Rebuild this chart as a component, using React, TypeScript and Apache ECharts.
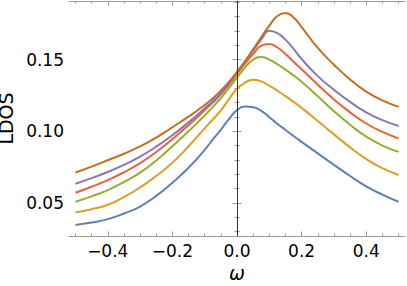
import React, { useEffect, useRef } from "react";
import * as echarts from "echarts";

// omega sample points shared by all curves
const omega = [-0.5,-0.45,-0.4,-0.35,-0.3,-0.25,-0.2,-0.15,-0.1,-0.075,-0.05,-0.025,0,0.025,0.05,0.075,0.1,0.125,0.15,0.175,0.2,0.25,0.3,0.35,0.4,0.45,0.5];

// LDOS values, one array per curve
const ldosBlue =   [0.0345,0.0362,0.0386,0.0425,0.0474,0.0548,0.0640,0.0745,0.0870,0.0942,0.1010,0.1085,0.1148,0.1172,0.1168,0.1142,0.1098,0.1052,0.1009,0.0967,0.0926,0.0845,0.0765,0.0687,0.0615,0.0557,0.0507];
const ldosOrange = [0.0433,0.0455,0.0486,0.0540,0.0607,0.0688,0.0780,0.0895,0.1020,0.1082,0.1145,0.1225,0.1297,0.1340,0.1360,0.1348,0.1318,0.1283,0.1245,0.1205,0.1163,0.1072,0.0978,0.0887,0.0805,0.0742,0.0694];
const ldosGreen =  [0.0507,0.0545,0.0589,0.0645,0.0711,0.0795,0.0895,0.1000,0.1110,0.1170,0.1232,0.1302,0.1375,0.1445,0.1500,0.1518,0.1500,0.1468,0.1430,0.1390,0.1345,0.1245,0.1140,0.1045,0.0962,0.0900,0.0856];
const ldosRed =    [0.0570,0.0612,0.0658,0.0713,0.0777,0.0855,0.0945,0.1042,0.1146,0.1200,0.1258,0.1325,0.1400,0.1472,0.1540,0.1598,0.1610,0.1585,0.1540,0.1485,0.1433,0.1325,0.1222,0.1132,0.1054,0.0995,0.0949];
const ldosPurple = [0.0633,0.0672,0.0716,0.0765,0.0823,0.0892,0.0972,0.1062,0.1160,0.1210,0.1265,0.1335,0.1410,0.1488,0.1565,0.1640,0.1702,0.1685,0.1640,0.1575,0.1505,0.1385,0.1290,0.1205,0.1132,0.1078,0.1037];
const ldosBrown =  [0.0712,0.0753,0.0797,0.0843,0.0894,0.0955,0.1028,0.1102,0.1183,0.1230,0.1283,0.1345,0.1414,0.1490,0.1572,0.1657,0.1738,0.1805,0.1826,0.1795,0.1728,0.1582,0.1465,0.1362,0.1277,0.1215,0.1170];

const curves = [ldosBlue, ldosOrange, ldosGreen, ldosRed, ldosPurple, ldosBrown];
const colors = ["#5E81B5", "#E19C24", "#8FB032", "#EB6235", "#8778B3", "#C56E1A"];

const xMajorTicks = [-0.4, -0.2, 0, 0.2, 0.4];
const xMinorTicks = [-0.5, -0.45, -0.35, -0.3, -0.25, -0.15, -0.1, -0.05, 0.05, 0.1, 0.15, 0.25, 0.3, 0.35, 0.45, 0.5];
const yMajorTicks = [0.05, 0.1, 0.15];
const yMinorTicks = [0.03, 0.04, 0.06, 0.07, 0.08, 0.09, 0.11, 0.12, 0.13, 0.14, 0.16, 0.17, 0.18, 0.19];

const X_MIN = -0.52, X_MAX = 0.52, Y_MIN = 0.0268, Y_MAX = 0.191;
const FRAME = "#999999";
const FONT = "DejaVu Sans";

export default function App() {
  const ref = useRef<HTMLDivElement>(null);
  useEffect(() => {
    if (!ref.current) return;
    const chart = echarts.init(ref.current, null, { renderer: "svg" });
    const xBase = { type: "value", min: X_MIN, max: X_MAX, splitLine: { show: false } };
    const yBase = { type: "value", min: Y_MIN, max: Y_MAX, splitLine: { show: false } };
    const majorTick = (vals: number[]) => ({ show: true, inside: true, length: 4.5, customValues: vals, lineStyle: { color: FRAME, width: 1 } });
    const minorTick = (vals: number[]) => ({ show: true, inside: true, length: 2.5, customValues: vals, lineStyle: { color: FRAME, width: 1 } });
    const line = (show: boolean) => ({ show, lineStyle: { color: FRAME, width: 1 } });
    const noLabel = { show: false };
    chart.setOption({
      animation: false,
      grid: { left: 69, right: 2, top: 1, bottom: 50, outerBoundsMode: "none", containLabel: false },
      xAxis: [
        {
          ...xBase, position: "bottom", axisLine: line(true), axisTick: majorTick(xMajorTicks),
          axisLabel: { show: true, customValues: xMajorTicks, margin: 6, color: "#000", fontSize: 17, fontFamily: FONT,
            formatter: (v: number) => v.toFixed(1).replace("-", "\u2212") },
          name: "\u03c9", nameLocation: "middle", nameGap: 21,
          nameTextStyle: { fontSize: 19, fontStyle: "italic", color: "#000", fontFamily: FONT },
        },
        { ...xBase, position: "bottom", axisLine: line(false), axisTick: minorTick(xMinorTicks), axisLabel: noLabel },
        { ...xBase, position: "top", axisLine: line(true), axisTick: majorTick(xMajorTicks), axisLabel: noLabel },
        { ...xBase, position: "top", axisLine: line(false), axisTick: minorTick(xMinorTicks), axisLabel: noLabel },
      ],
      yAxis: [
        {
          ...yBase, position: "left", axisLine: line(true), axisTick: majorTick(yMajorTicks),
          axisLabel: { show: true, customValues: yMajorTicks, margin: 5, color: "#000", fontSize: 17, fontFamily: FONT,
            formatter: (v: number) => v.toFixed(2) },
          name: "LDOS", nameLocation: "middle", nameGap: 37,
          nameTextStyle: { fontSize: 19, color: "#000", fontFamily: FONT },
        },
        { ...yBase, position: "left", axisLine: line(false), axisTick: minorTick(yMinorTicks), axisLabel: noLabel },
        { ...yBase, position: "right", axisLine: line(true), axisTick: majorTick(yMajorTicks), axisLabel: noLabel },
        { ...yBase, position: "right", axisLine: line(false), axisTick: minorTick(yMinorTicks), axisLabel: noLabel },
      ],
      series: [
        {
          type: "line", data: [], xAxisIndex: 0, yAxisIndex: 0, z: 1,
          markLine: {
            silent: true, symbol: ["none", "none"], label: { show: false },
            lineStyle: { color: "#333", width: 1, type: "solid" },
            data: [{ xAxis: 0 }],
          },
        },
        ...curves.map((vals, i) => ({
          type: "line", data: omega.map((w, j) => [w, vals[j]]), xAxisIndex: 0, yAxisIndex: 0, z: 2,
          smooth: 0.5, showSymbol: false, symbol: "none",
          lineStyle: { color: colors[i], width: 2 },
        })),
      ],
    });
    return () => chart.dispose();
  }, []);
  return <div ref={ref} style={{ position: "fixed", left: 0, top: 0, width: 407, height: 286, background: "#fff" }} />;
}
